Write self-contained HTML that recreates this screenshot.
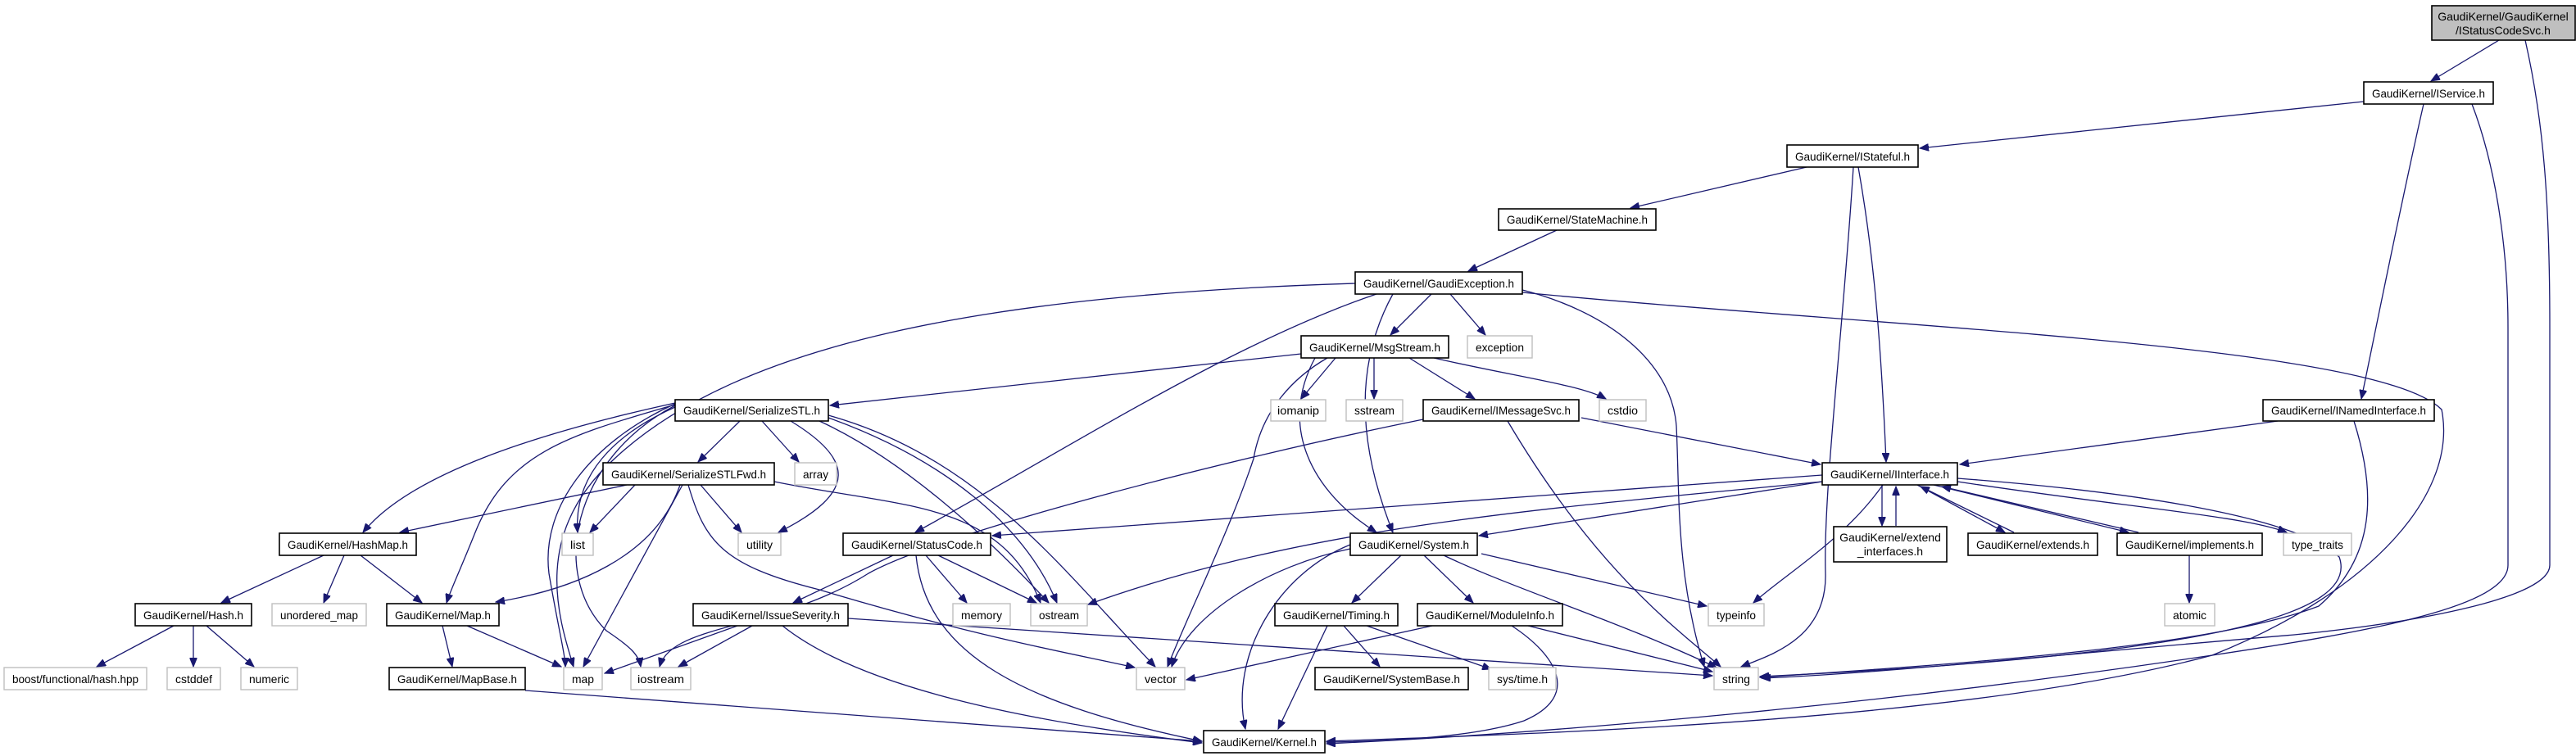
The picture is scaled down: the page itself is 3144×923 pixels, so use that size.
<!DOCTYPE html>
<html><head><meta charset="utf-8"><style>
html,body{margin:0;padding:0;background:#fff}
svg{display:block}
text{font-family:"Liberation Sans",sans-serif;font-size:14px;fill:#000}
.e{fill:none;stroke:#191970;stroke-width:1.3;marker-end:url(#ah)}
.n{fill:#fff;stroke:#000;stroke-width:1.6}
.g{fill:#fff;stroke:#bfbfbf;stroke-width:1.4}
</style></head><body>
<svg width="3144" height="923" viewBox="0 0 3144 923" xmlns="http://www.w3.org/2000/svg">
<defs><marker id="ah" markerUnits="userSpaceOnUse" markerWidth="12" markerHeight="9" refX="11" refY="4.5" orient="auto"><path d="M0,0 L11,4.5 L0,9 z" fill="#191970" stroke="#191970"/></marker></defs>
<g>
<path class="e" d="M3050,49 L2967,99"/>
<path class="e" d="M3082,49 C3105,150 3112,250 3112,400 L3112,690 C3112,730 2950,760 2800,775 C2500,800 2300,822 2150,828"/>
<path class="e" d="M2885,124 L2343,181"/>
<path class="e" d="M2958,127 C2930,250 2900,400 2882,487"/>
<path class="e" d="M3017,127 C3045,200 3061,300 3061,400 L3061,690 C3061,740 2900,770 2700,800 C2300,860 1900,895 1619,908"/>
<path class="e" d="M2205,204 L1990,254"/>
<path class="e" d="M2262,204 C2250,400 2225,600 2228,700 C2230,780 2160,800 2125,814"/>
<path class="e" d="M2268,204 C2285,300 2295,400 2302,564"/>
<path class="e" d="M1900,281 L1792,331"/>
<path class="e" d="M1747,359 L1697,409"/>
<path class="e" d="M1770,359 L1813,409"/>
<path class="e" d="M1858,354 C1960,380 2040,440 2046,520 C2050,600 2045,700 2080,814"/>
<path class="e" d="M1858,357 C2300,400 2900,420 2980,500 C3000,600 2900,720 2700,800 C2400,880 1900,895 1619,905"/>
<path class="e" d="M1680,359 C1500,420 1300,550 1117,650"/>
<path class="e" d="M1700,359 C1650,450 1660,550 1700,650"/>
<path class="e" d="M1654,346 C1200,360 900,420 750,560 C650,650 680,750 700,814"/>
<path class="e" d="M1588,432 L1013,495"/>
<path class="e" d="M1630,437 L1588,487"/>
<path class="e" d="M1677,437 L1677,487"/>
<path class="e" d="M1720,437 L1800,487"/>
<path class="e" d="M1750,437 C1850,460 1930,470 1960,487"/>
<path class="e" d="M1620,437 C1580,460 1540,500 1530,560 C1500,650 1450,750 1425,814"/>
<path class="e" d="M1605,437 C1560,520 1600,600 1680,650"/>
<path class="e" d="M903,514 L852,564"/>
<path class="e" d="M930,514 L975,564"/>
<path class="e" d="M965,514 C1040,560 1050,600 950,650"/>
<path class="e" d="M824,497 C750,530 700,580 705,650"/>
<path class="e" d="M824,492 C650,530 500,580 443,650"/>
<path class="e" d="M824,494 C700,530 620,550 580,650 C560,700 550,720 545,736"/>
<path class="e" d="M824,493 C720,540 660,620 670,700 C680,760 690,800 690,814"/>
<path class="e" d="M824,495 C700,560 670,700 740,770 C770,790 780,800 782,814"/>
<path class="e" d="M1000,514 C1100,560 1200,650 1280,736"/>
<path class="e" d="M1011,510 C1150,560 1250,640 1290,736"/>
<path class="e" d="M1011,507 C1200,560 1300,700 1410,814"/>
<path class="e" d="M765,592 L488,650"/>
<path class="e" d="M775,592 L720,650"/>
<path class="e" d="M855,592 L905,650"/>
<path class="e" d="M830,592 C800,680 700,720 605,735"/>
<path class="e" d="M833,592 L712,814"/>
<path class="e" d="M945,588 C1100,620 1220,610 1270,736"/>
<path class="e" d="M840,592 C860,660 880,690 1000,720 C1200,780 1320,800 1385,815"/>
<path class="e" d="M1930,510 L2222,567"/>
<path class="e" d="M1840,514 C1950,700 2050,770 2100,814"/>
<path class="e" d="M1737,512 C1500,560 1150,650 1060,700 C950,770 820,760 805,814"/>
<path class="e" d="M2780,514 L2392,567"/>
<path class="e" d="M2224,580 C1800,610 1400,640 1211,654"/>
<path class="e" d="M2224,588 L1805,654"/>
<path class="e" d="M2297,592 L2297,642"/>
<path class="e" d="M2314,642 L2314,594"/>
<path class="e" d="M2340,592 L2447,650"/>
<path class="e" d="M2458,650 L2344,594"/>
<path class="e" d="M2360,592 L2598,650"/>
<path class="e" d="M2610,650 L2370,594"/>
<path class="e" d="M2389,588 C2600,620 2740,630 2791,650"/>
<path class="e" d="M2298,592 C2250,660 2180,700 2140,736"/>
<path class="e" d="M2224,588 C1900,620 1600,640 1328,738"/>
<path class="e" d="M2389,584 C2600,600 2800,630 2855,680 C2880,750 2700,800 2148,826"/>
<path class="e" d="M2873,514 C2900,600 2900,680 2830,740 C2700,790 2400,810 2148,827"/>
<path class="e" d="M395,678 L270,736"/>
<path class="e" d="M420,678 L395,736"/>
<path class="e" d="M440,678 L515,736"/>
<path class="e" d="M212,764 L118,814"/>
<path class="e" d="M236,764 L236,814"/>
<path class="e" d="M252,764 L310,814"/>
<path class="e" d="M540,764 L552,814"/>
<path class="e" d="M570,764 L685,814"/>
<path class="e" d="M641,843 L1467,905"/>
<path class="e" d="M1090,678 L968,736"/>
<path class="e" d="M1130,678 L1180,736"/>
<path class="e" d="M1145,678 L1265,736"/>
<path class="e" d="M1118,678 C1130,800 1250,860 1467,905"/>
<path class="e" d="M900,764 L738,822"/>
<path class="e" d="M918,764 L828,814"/>
<path class="e" d="M1035,755 L2090,825"/>
<path class="e" d="M955,764 C1050,840 1250,880 1467,907"/>
<path class="e" d="M1710,678 L1650,736"/>
<path class="e" d="M1738,678 L1798,736"/>
<path class="e" d="M1808,676 L2083,740"/>
<path class="e" d="M1762,678 C1850,720 1980,760 2095,815"/>
<path class="e" d="M1648,670 C1550,690 1450,750 1430,814"/>
<path class="e" d="M1648,665 C1560,700 1500,800 1520,890"/>
<path class="e" d="M1640,764 L1684,814"/>
<path class="e" d="M1668,764 L1820,817"/>
<path class="e" d="M1620,764 L1560,890"/>
<path class="e" d="M1748,764 L1448,830"/>
<path class="e" d="M1865,764 L2090,820"/>
<path class="e" d="M1845,764 C1900,800 1930,850 1860,880 C1800,900 1700,905 1619,906"/>
<path class="e" d="M2672,678 L2672,736"/>
</g>
<g>
<rect x="2968" y="7" width="175" height="42" fill="#bfbfbf" stroke="#000" stroke-width="1.6"/>
<text x="3055" y="25" text-anchor="middle">GaudiKernel/GaudiKernel</text>
<text x="3055" y="42" text-anchor="middle">/IStatusCodeSvc.h</text>
<rect class="n" x="2238" y="643" width="138" height="43"/>
<text x="2307" y="661" text-anchor="middle">GaudiKernel/extend</text>
<text x="2307" y="678" text-anchor="middle">_interfaces.h</text>

<rect class="n" x="2885" y="100" width="158" height="27"/><text x="2895" y="119" textLength="138" lengthAdjust="spacingAndGlyphs">GaudiKernel/IService.h</text>
<rect class="n" x="2181" y="177" width="160" height="27"/><text x="2191" y="196" textLength="140" lengthAdjust="spacingAndGlyphs">GaudiKernel/IStateful.h</text>
<rect class="n" x="1829" y="255" width="192" height="26"/><text x="1839" y="273" textLength="172" lengthAdjust="spacingAndGlyphs">GaudiKernel/StateMachine.h</text>
<rect class="n" x="1654" y="332" width="204" height="27"/><text x="1664" y="351" textLength="184" lengthAdjust="spacingAndGlyphs">GaudiKernel/GaudiException.h</text>
<rect class="n" x="1588" y="410" width="180" height="27"/><text x="1598" y="429" textLength="160" lengthAdjust="spacingAndGlyphs">GaudiKernel/MsgStream.h</text>
<rect class="g" x="1791" y="410" width="79" height="27"/><text x="1801" y="429" textLength="59" lengthAdjust="spacingAndGlyphs">exception</text>
<rect class="n" x="824" y="488" width="187" height="26"/><text x="834" y="506" textLength="167" lengthAdjust="spacingAndGlyphs">GaudiKernel/SerializeSTL.h</text>
<rect class="g" x="1551" y="488" width="67" height="26"/><text x="1559" y="506" textLength="51" lengthAdjust="spacingAndGlyphs">iomanip</text>
<rect class="g" x="1643" y="488" width="69" height="26"/><text x="1653" y="506" textLength="49" lengthAdjust="spacingAndGlyphs">sstream</text>
<rect class="n" x="1737" y="488" width="190" height="26"/><text x="1747" y="506" textLength="170" lengthAdjust="spacingAndGlyphs">GaudiKernel/IMessageSvc.h</text>
<rect class="g" x="1952" y="488" width="57" height="26"/><text x="1962" y="506" textLength="37" lengthAdjust="spacingAndGlyphs">cstdio</text>
<rect class="n" x="2762" y="488" width="209" height="26"/><text x="2772" y="506" textLength="189" lengthAdjust="spacingAndGlyphs">GaudiKernel/INamedInterface.h</text>
<rect class="n" x="736" y="565" width="209" height="27"/><text x="746" y="584" textLength="189" lengthAdjust="spacingAndGlyphs">GaudiKernel/SerializeSTLFwd.h</text>
<rect class="g" x="970" y="565" width="51" height="27"/><text x="980" y="584" textLength="31" lengthAdjust="spacingAndGlyphs">array</text>
<rect class="n" x="2224" y="565" width="165" height="27"/><text x="2234" y="584" textLength="145" lengthAdjust="spacingAndGlyphs">GaudiKernel/IInterface.h</text>
<rect class="n" x="341" y="651" width="167" height="27"/><text x="351" y="670" textLength="147" lengthAdjust="spacingAndGlyphs">GaudiKernel/HashMap.h</text>
<rect class="g" x="686" y="651" width="38" height="27"/><text x="696" y="670" textLength="18" lengthAdjust="spacingAndGlyphs">list</text>
<rect class="g" x="901" y="651" width="52" height="27"/><text x="911" y="670" textLength="32" lengthAdjust="spacingAndGlyphs">utility</text>
<rect class="n" x="1029" y="651" width="180" height="27"/><text x="1039" y="670" textLength="160" lengthAdjust="spacingAndGlyphs">GaudiKernel/StatusCode.h</text>
<rect class="n" x="1648" y="651" width="155" height="27"/><text x="1658" y="670" textLength="135" lengthAdjust="spacingAndGlyphs">GaudiKernel/System.h</text>
<rect class="n" x="2402" y="651" width="158" height="27"/><text x="2412" y="670" textLength="138" lengthAdjust="spacingAndGlyphs">GaudiKernel/extends.h</text>
<rect class="n" x="2584" y="651" width="177" height="27"/><text x="2594" y="670" textLength="157" lengthAdjust="spacingAndGlyphs">GaudiKernel/implements.h</text>
<rect class="g" x="2787" y="651" width="83" height="27"/><text x="2797" y="670" textLength="63" lengthAdjust="spacingAndGlyphs">type_traits</text>
<rect class="n" x="165" y="737" width="142" height="27"/><text x="175" y="756" textLength="122" lengthAdjust="spacingAndGlyphs">GaudiKernel/Hash.h</text>
<rect class="g" x="332" y="737" width="115" height="27"/><text x="342" y="756" textLength="95" lengthAdjust="spacingAndGlyphs">unordered_map</text>
<rect class="n" x="472" y="737" width="137" height="27"/><text x="482" y="756" textLength="117" lengthAdjust="spacingAndGlyphs">GaudiKernel/Map.h</text>
<rect class="n" x="846" y="737" width="189" height="27"/><text x="856" y="756" textLength="169" lengthAdjust="spacingAndGlyphs">GaudiKernel/IssueSeverity.h</text>
<rect class="g" x="1163" y="737" width="70" height="27"/><text x="1173" y="756" textLength="50" lengthAdjust="spacingAndGlyphs">memory</text>
<rect class="g" x="1258" y="737" width="69" height="27"/><text x="1268" y="756" textLength="49" lengthAdjust="spacingAndGlyphs">ostream</text>
<rect class="n" x="1556" y="737" width="150" height="27"/><text x="1566" y="756" textLength="130" lengthAdjust="spacingAndGlyphs">GaudiKernel/Timing.h</text>
<rect class="n" x="1730" y="737" width="177" height="27"/><text x="1740" y="756" textLength="157" lengthAdjust="spacingAndGlyphs">GaudiKernel/ModuleInfo.h</text>
<rect class="g" x="2085" y="737" width="68" height="27"/><text x="2095" y="756" textLength="48" lengthAdjust="spacingAndGlyphs">typeinfo</text>
<rect class="g" x="2642" y="737" width="61" height="27"/><text x="2652" y="756" textLength="41" lengthAdjust="spacingAndGlyphs">atomic</text>
<rect class="g" x="5" y="815" width="174" height="27"/><text x="15" y="834" textLength="154" lengthAdjust="spacingAndGlyphs">boost/functional/hash.hpp</text>
<rect class="g" x="204" y="815" width="65" height="27"/><text x="214" y="834" textLength="45" lengthAdjust="spacingAndGlyphs">cstddef</text>
<rect class="g" x="294" y="815" width="69" height="27"/><text x="304" y="834" textLength="49" lengthAdjust="spacingAndGlyphs">numeric</text>
<rect class="n" x="475" y="815" width="166" height="27"/><text x="485" y="834" textLength="146" lengthAdjust="spacingAndGlyphs">GaudiKernel/MapBase.h</text>
<rect class="g" x="688" y="815" width="47" height="27"/><text x="698" y="834" textLength="27" lengthAdjust="spacingAndGlyphs">map</text>
<rect class="g" x="770" y="815" width="73" height="27"/><text x="778" y="834" textLength="57" lengthAdjust="spacingAndGlyphs">iostream</text>
<rect class="g" x="1387" y="815" width="59" height="27"/><text x="1397" y="834" textLength="39" lengthAdjust="spacingAndGlyphs">vector</text>
<rect class="n" x="1605" y="815" width="187" height="27"/><text x="1615" y="834" textLength="167" lengthAdjust="spacingAndGlyphs">GaudiKernel/SystemBase.h</text>
<rect class="g" x="1817" y="815" width="82" height="27"/><text x="1827" y="834" textLength="62" lengthAdjust="spacingAndGlyphs">sys/time.h</text>
<rect class="g" x="2092" y="815" width="54" height="27"/><text x="2102" y="834" textLength="34" lengthAdjust="spacingAndGlyphs">string</text>
<rect class="n" x="1469" y="892" width="148" height="27"/><text x="1479" y="911" textLength="128" lengthAdjust="spacingAndGlyphs">GaudiKernel/Kernel.h</text>
</g>
</svg>
</body></html>
